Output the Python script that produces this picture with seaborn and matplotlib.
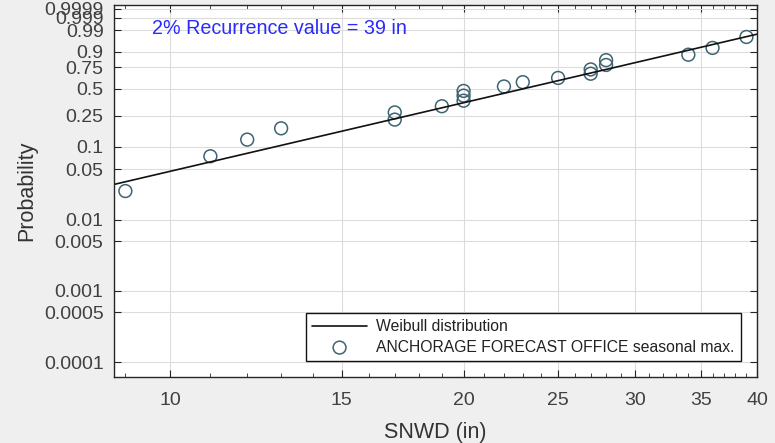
import numpy as np
import matplotlib
matplotlib.use("Agg")
import matplotlib.pyplot as plt
import seaborn as sns
from matplotlib.ticker import FixedLocator, FixedFormatter, NullFormatter

# seasonal maximum snow depth (in) and plotting positions
snwd = [9, 11, 12, 13, 17, 17, 19, 20, 20, 20, 22, 23, 25, 27, 27, 28, 28, 34, 36, 39]
prob = [0.025, 0.075, 0.125, 0.175, 0.225, 0.275, 0.325, 0.375, 0.425, 0.475,
        0.525, 0.575, 0.625, 0.675, 0.725, 0.775, 0.825, 0.875, 0.925, 0.975]

# fitted Weibull distribution
weibull_scale = 25.85
weibull_shape = 3.2

x_ticks = [10, 15, 20, 25, 30, 35, 40]
x_minor = [9, 11, 12, 13, 14, 16, 17, 18, 19, 21, 22, 23, 24, 26, 27, 28, 29,
           31, 32, 33, 34, 36, 37, 38, 39]
y_ticks = [0.0001, 0.0005, 0.001, 0.005, 0.01, 0.05, 0.1, 0.25, 0.5, 0.75, 0.9,
           0.99, 0.999, 0.9999]
y_labels = ["0.0001", "0.0005", "0.001", "0.005", "0.01", "0.05", "0.1", "0.25",
            "0.5", "0.75", "0.9", "0.99", "0.999", "0.9999"]


def wb_fwd(p):
    p = np.clip(np.asarray(p, dtype=float), 1e-12, 1 - 1e-12)
    return np.log(-np.log1p(-p))


def wb_inv(y):
    return -np.expm1(-np.exp(np.asarray(y, dtype=float)))


sns.set_theme(style="ticks")
plt.rcParams["font.family"] = ["Liberation Sans", "DejaVu Sans"]

fig = plt.figure(figsize=(7.75, 4.43), dpi=100, facecolor="#efefef")
ax = fig.add_axes([0.147, 0.149, 0.830, 0.840])
ax.set_facecolor("white")

ax.set_xscale("log")
ax.set_yscale("function", functions=(wb_fwd, wb_inv))

xlim = (8.76, 40)
line_x = np.geomspace(xlim[0], xlim[1], 50)
line_p = 1 - np.exp(-(line_x / weibull_scale) ** weibull_shape)

sns.lineplot(x=line_x, y=line_p, ax=ax, color="#111111", linewidth=1.2,
             label="Weibull distribution")
sns.scatterplot(x=snwd, y=prob, ax=ax, marker="o", s=85, facecolors="none",
                edgecolors="#3d6472", linewidth=1.1,
                label="ANCHORAGE FORECAST OFFICE seasonal max.")

ax.set_xlim(*xlim)
ax.set_ylim(6.2e-5, 0.99997)

ax.xaxis.set_major_locator(FixedLocator(x_ticks))
ax.xaxis.set_major_formatter(FixedFormatter([str(v) for v in x_ticks]))
ax.xaxis.set_minor_locator(FixedLocator(x_minor))
ax.xaxis.set_minor_formatter(NullFormatter())
ax.yaxis.set_major_locator(FixedLocator(y_ticks))
ax.yaxis.set_major_formatter(FixedFormatter(y_labels))
ax.yaxis.set_minor_locator(FixedLocator([]))

ax.tick_params(which="both", direction="in", top=True, right=True,
               colors="#262626", labelcolor="#404040", labelsize=14)
ax.tick_params(which="major", length=5, width=0.8)
ax.tick_params(which="minor", length=3, width=0.6)
ax.tick_params(axis="x", which="major", pad=10.5)
ax.tick_params(axis="y", which="major", pad=7.5)
ax.grid(True, which="major", color="#dcdcdc", linewidth=0.8)
for s in ax.spines.values():
    s.set_color("#262626")
    s.set_linewidth(1.0)

ax.set_xlabel("SNWD (in)", fontsize=15.5, color="#333333", labelpad=10)
ax.set_ylabel("Probability", fontsize=15.5, color="#333333", labelpad=5)

ax.text(0.059, 0.937, "2% Recurrence value = 39 in", transform=ax.transAxes,
        color="#2a2aff", fontsize=14.2, va="center", ha="left")

leg = ax.legend(loc="lower right", bbox_to_anchor=(0.975, 0.043), borderaxespad=0,
                fontsize=11.3, frameon=True, fancybox=False, framealpha=1,
                edgecolor="#111111", handlelength=3.5, borderpad=0.4,
                labelspacing=0.35, handletextpad=0.6)
leg.get_frame().set_linewidth(1.0)
for t in leg.get_texts():
    t.set_color("#222222")

fig.savefig("out.png", dpi=100, facecolor=fig.get_facecolor())
